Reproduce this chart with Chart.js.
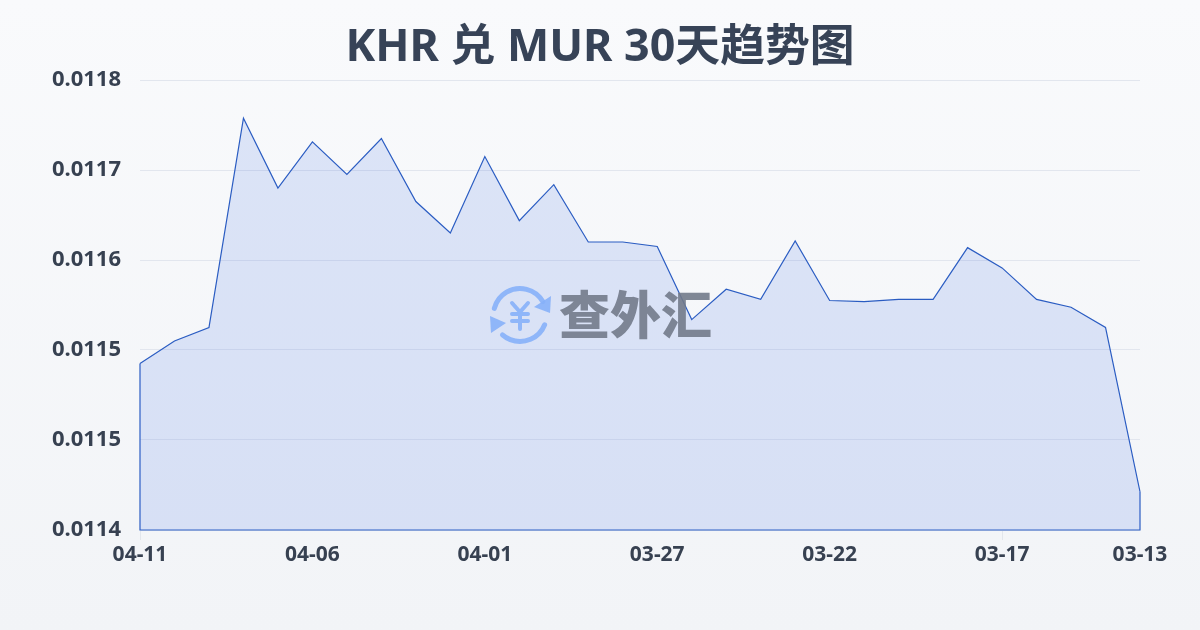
<!DOCTYPE html>
<html>
<head>
<meta charset="utf-8">
<title>KHR 兑 MUR 30天趋势图</title>
<script src="https://cdn.jsdelivr.net/npm/chart.js@4"></script>
<style>
  html, body { margin: 0; padding: 0; }
  body { position: relative; width: 1200px; height: 630px; overflow: hidden; background: linear-gradient(180deg, #f9fafc 0%, #f2f4f7 100%); }
  canvas { display: block; }
  #chartTitle { position: absolute; left: 0; top: 14px; width: 1200px; margin: 0; text-align: center; color: #374357;
    font: bold 44.8px/60px "Noto Sans", "Noto Sans CJK SC", sans-serif; }
</style>
</head>
<body>
<h1 id="chartTitle">KHR 兑 MUR 30天趋势图</h1>
<canvas id="rateChart" width="1200" height="630"></canvas>
<script>
const days = ['04-11','04-10','04-09','04-08','04-07','04-06','04-05','04-04','04-03','04-02',
  '04-01','03-31','03-30','03-29','03-28','03-27','03-26','03-25','03-24','03-23',
  '03-22','03-21','03-20','03-19','03-18','03-17','03-16','03-15','03-14','03-13'];
const rates = [0.011548,0.011568,0.011580,0.011766,0.011704,0.011745,0.011716,0.011748,0.011692,0.011664,
  0.011732,0.011675,0.011707,0.011656,0.011656,0.011652,0.011587,0.011614,0.011605,0.011657,
  0.011604,0.011603,0.011605,0.011605,0.011651,0.011633,0.011605,0.011598,0.011580,0.011434];
const shownDays = ['04-11','04-06','04-01','03-27','03-22','03-17','03-13'];
const yTickValues = [0.0114,0.01148,0.01156,0.01164,0.01172,0.0118];
const yTickLabels = ['0.0114','0.0115','0.0115','0.0116','0.0117','0.0118'];
const yMin = 0.0114, yMax = 0.0118;

// the area has a closed outline: down both ends and along the bottom
const outline = [
  { x: days[0], y: rates[0] },
  { x: days[0], y: yMin },
  { x: days[days.length - 1], y: yMin },
  { x: days[days.length - 1], y: rates[rates.length - 1] }
];

const font = '"Noto Sans", "Noto Sans CJK SC", sans-serif';

const watermark = {
  id: 'watermark',
  afterDatasetsDraw(chart) {
    const c = chart.ctx;
    c.save();
    c.globalAlpha = 0.9;
    c.strokeStyle = c.fillStyle = '#86b0f8';
    c.lineCap = 'round';
    c.lineWidth = 5;
    c.beginPath(); c.arc(520, 315, 26.5, Math.PI * 1.08, Math.PI * 1.83); c.stroke();
    c.beginPath(); c.arc(520, 315, 26.5, Math.PI * 0.12, Math.PI * 0.73); c.stroke();
    c.beginPath(); c.moveTo(551, 296); c.lineTo(550, 313); c.lineTo(534, 307); c.closePath(); c.fill();
    c.beginPath(); c.moveTo(490, 316); c.lineTo(506, 323); c.lineTo(491, 333); c.closePath(); c.fill();
    c.lineWidth = 4;
    c.beginPath();
    c.moveTo(512, 303); c.lineTo(520, 312); c.lineTo(528, 303);
    c.moveTo(520, 312); c.lineTo(520, 329);
    c.moveTo(512, 314); c.lineTo(528, 314);
    c.moveTo(512, 321); c.lineTo(528, 321);
    c.stroke();
    c.fillStyle = '#727a8a';
    c.font = '900 51px "Noto Sans CJK SC"';
    c.textAlign = 'left';
    c.textBaseline = 'middle';
    c.fillText('查外汇', 559, 315);
    c.restore();
  }
};

new Chart(document.getElementById('rateChart').getContext('2d'), {
  type: 'line',
  data: {
    labels: days,
    datasets: [{
      data: rates,
      borderColor: '#2a5cc2',
      borderWidth: 1.2,
      backgroundColor: 'rgba(60,110,230,0.15)',
      fill: 'start',
      pointRadius: 0,
      clip: false,
      tension: 0
    }, {
      data: outline,
      borderColor: '#2a5cc2',
      borderWidth: 1.2,
      pointRadius: 0,
      fill: false,
      clip: false,
      tension: 0
    }]
  },
  options: {
    responsive: false,
    animation: false,
    layout: { padding: { top: 80, right: 60, bottom: 0, left: 0 } },
    plugins: {
      legend: { display: false },
      tooltip: { enabled: false },
      title: { display: false }
    },
    scales: {
      x: {
        offset: false,
        grid: {
          drawOnChartArea: false,
          tickLength: 10,
          color: ctx => shownDays.includes(days[ctx.index]) ? '#e2e6ec' : 'transparent'
        },
        border: { display: false },
        ticks: {
          autoSkip: false,
          maxRotation: 0,
          padding: 2,
          color: '#374151',
          font: { family: font, size: 21, weight: 'bold' },
          callback: function (v, i) { return shownDays.includes(days[i]) ? days[i] : null; }
        },
        afterFit: s => { s.height = 100; }
      },
      y: {
        min: yMin,
        max: yMax,
        afterBuildTicks: s => { s.ticks = yTickValues.map(value => ({ value })); },
        grid: { color: '#e2e6ee', lineWidth: 1, drawTicks: false },
        border: { display: false },
        ticks: {
          padding: 19,
          color: '#374151',
          font: { family: font, size: 22, weight: 'bold' },
          callback: (v, i) => yTickLabels[i]
        },
        afterFit: s => { s.width = 140; }
      }
    }
  },
  plugins: [watermark]
});
</script>
</body>
</html>
